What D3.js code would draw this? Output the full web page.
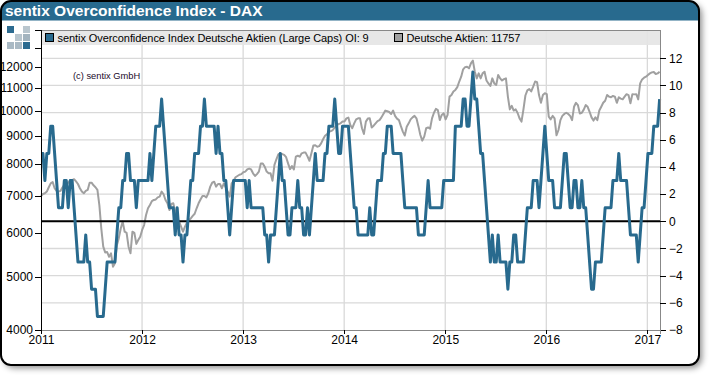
<!DOCTYPE html>
<html lang="en">
<head>
<meta charset="UTF-8">
<title>sentix Overconfidence Index - DAX</title>
<script src="https://cdn.jsdelivr.net/npm/d3@7"></script>
<style>
    html, body { margin: 0; padding: 0; background: #fff; }
    svg { display: block; }
    text { font-family: "Liberation Sans", Arial, sans-serif; }
    .axis text { font-size: 12px; fill: #000; }
    .axis path, .axis line { fill: none; shape-rendering: crispEdges; }
</style>
</head>
<body>
<script>
    var width = 710, height = 376

    // weekly readings, first one is the first week of 2011
    var weeksPerYear = 51.95
    var startYear = 2011
    var sentimentValues = [
        5,5,3,5,5,7,7,5,3,1,1,1,3,3,1,3,3,1,-1,-3,-3,-3,-3,-1,-3,-3,-5,-5,-5,-7,-7,-7,-7,-5,-3,-3,-3,-3,-3,-1,
        1,1,3,3,5,5,3,3,3,1,3,3,3,3,3,3,5,3,5,7,7,7,9,7,5,3,1,1,1,-1,1,-1,-1,-3,-1,-1,1,3,3,5,
        5,5,7,7,9,7,7,7,7,7,5,7,5,5,3,3,1,-1,1,3,3,3,3,3,3,3,1,3,1,1,1,1,1,1,1,-1,-1,-3,-1,-1,
        -1,1,3,5,3,3,1,-1,-1,1,1,1,3,1,1,-1,-1,1,-1,1,3,5,3,3,3,3,5,5,7,7,7,9,7,5,5,7,7,7,7,5,
        3,1,1,-1,-1,-1,-1,-1,-1,1,-1,-1,1,3,3,3,5,5,7,7,7,5,5,5,5,5,3,1,1,1,1,1,1,1,-1,-1,-1,-1,
        1,3,1,1,1,1,1,1,1,3,3,3,3,3,3,7,7,7,7,9,9,7,7,9,11,9,9,7,5,5,3,1,-1,-3,-1,-3,-3,-1,-3,-3,
        -3,-3,-5,-3,-3,-1,-1,-3,-3,-3,-3,-1,1,1,1,3,3,3,1,3,5,7,5,3,3,3,1,1,1,1,3,5,5,3,1,1,3,3,
        1,1,3,1,1,-1,-3,-5,-5,-3,-3,-3,-3,-1,1,1,1,1,3,3,3,5,3,3,3,3,1,-1,-1,-1,-1,-3,-1,1,1,3,5,5,
        5,7,7,7,9
    ]
    var daxValues = [
        7000,7060,7080,7130,7260,7380,7420,7230,7150,7130,7150,7250,7330,7380,7400,7460,7480,7510,7440,7360,
        7230,7130,7080,7150,7180,7400,7400,7320,7260,7180,6740,6110,5665,5530,5540,5430,5510,5210,5285,5700,
        5870,6110,6290,6030,6000,5665,5510,6030,6000,5730,5825,5905,6075,6200,6465,6650,6740,6850,6885,6900,
        6960,6980,7130,7050,6885,6790,6600,6770,6790,6555,6375,6290,6160,6030,6160,6260,6330,6375,6440,6500,
        6650,6790,6900,7000,7000,6960,7080,7280,7400,7430,7280,7360,7360,7230,7380,7250,7130,6980,7380,7460,
        7570,7610,7650,7670,7730,7750,7820,7850,7820,7695,7610,7670,7750,8020,8020,7910,7750,7695,7695,7460,
        7970,8160,8330,8365,8340,8310,8230,8020,7830,7930,7820,8250,8280,8250,8365,8390,8390,8260,8110,8365,
        8640,8650,8600,8620,8720,8870,9000,9060,9150,9180,9220,9320,9400,9455,9480,9550,9550,9680,9710,9410,
        9290,9480,9640,9680,9680,9290,9070,9550,9670,9680,9320,9390,9480,9570,9610,9720,9860,10000,9970,9940,
        9860,10000,9780,9670,9610,9370,9160,9010,9350,9480,9640,9720,9780,9680,9370,9030,8820,8970,9290,9320,
        9270,9680,9910,10070,10020,9610,9820,9885,9640,9820,10600,10670,10830,10900,11030,11290,11520,11880,11990,12010,
        11930,12180,12320,11760,11440,11680,11440,11680,11760,11340,11200,11080,11440,11200,11130,11600,11440,11340,11400,11440,
        10600,10050,10200,10000,10050,9900,9680,9550,10050,10650,10880,10940,10830,11050,11290,11260,10670,10330,10670,10750,
        10710,9750,9640,9780,9680,9020,9220,9610,9780,9860,9910,9860,9780,9610,10160,10330,10230,9880,9910,10040,
        10230,10160,9950,9720,9590,9720,9610,10000,10160,10330,10420,10670,10600,10570,10630,10600,10330,10570,10510,10480,
        10600,10710,10670,10310,10710,10700,10710,10480,11200,11390,11470,11520,11600,11680,11730,11750,11650,11680,11757
    ]
    var yearTicks = [2011, 2012, 2013, 2014, 2015, 2016, 2017]
    var daxTicks = [4000, 5000, 6000, 7000, 8000, 9000, 10000, 11000, 12000, 13000, 14000]
    var sentimentTicks = [-8, -6, -4, -2, 0, 2, 4, 6, 8, 10, 12]

    var titleText = "sentix Overconfidence Index - DAX"
    var legendNames = ["sentix Overconfidence Index Deutsche Aktien (Large Caps) OI: 9", "Deutsche Aktien: 11757"]
    var blue = "#286a8e", grey = "#a0a0a0"

    var plotLeft = 41, plotRight = 660, plotTop = 30, plotBottom = 330

    var svg = d3.select("body").append("svg")
        .attr("width", width)
        .attr("height", height)

    var defs = svg.append("defs")
    var shadow = defs.append("filter").attr("id", "shadow")
        .attr("x", "-5%").attr("y", "-5%").attr("width", "110%").attr("height", "110%")
    shadow.append("feDropShadow")
        .attr("dx", 3).attr("dy", 3).attr("stdDeviation", 3)
        .attr("flood-color", "#000").attr("flood-opacity", 0.45)
    defs.append("clipPath").attr("id", "frameClip").append("rect")
        .attr("x", 1).attr("y", 1).attr("width", 698).attr("height", 364).attr("rx", 10)

    // frame and title bar
    svg.append("rect")
        .attr("x", 1).attr("y", 1).attr("width", 698).attr("height", 364).attr("rx", 10)
        .attr("fill", "#fff").attr("filter", "url(#shadow)")
    svg.append("rect")
        .attr("x", 1).attr("y", 1).attr("width", 698).attr("height", 19.5)
        .attr("fill", blue).attr("clip-path", "url(#frameClip)")
    svg.append("rect")
        .attr("x", 1).attr("y", 1).attr("width", 698).attr("height", 364).attr("rx", 10)
        .attr("fill", "none").attr("stroke", "#000").attr("stroke-width", 2)
    svg.append("text")
        .attr("x", 5).attr("y", 16)
        .attr("fill", "#fff").attr("font-size", 15.5).attr("font-weight", "bold")
        .text(titleText)

    // small logo in the corner
    var logoCells = [
        [0, 0, "#2c6b90"], [2, 0, "#b9c6ce"],
        [1, 1, "#b9c6ce"], [2, 1, "#a3b4bf"],
        [0, 2, "#a9b9c4"], [1, 2, "#a9b9c4"], [2, 2, "#2c6b90"]
    ]
    svg.append("g").selectAll("rect")
        .data(logoCells)
        .enter()
        .append("rect")
        .attr("x", function(d) { return 7 + d[0] * 8 })
        .attr("y", function(d) { return 26 + d[1] * 8 })
        .attr("width", 7)
        .attr("height", 7)
        .attr("fill", function(d) { return d[2] })

    // scales
    var x = d3.scaleLinear().domain([2011, 2017.125]).range([plotLeft, plotRight])
    var yDax = d3.scaleLog().domain([4000, 14000]).range([plotBottom, plotTop])
    var ySent = d3.scaleLinear().domain([-8, 12]).range([plotBottom, 58.3])

    function weekYear(i) {
        return startYear + i / weeksPerYear
    }

    // grid
    var grid = svg.append("g").attr("stroke", "#d9d9d9").attr("stroke-width", 1.3)
    grid.selectAll("line.h")
        .data(sentimentTicks.slice(1))
        .enter()
        .append("line")
        .attr("class", "h")
        .attr("x1", plotLeft).attr("x2", plotRight)
        .attr("y1", function(d) { return ySent(d) })
        .attr("y2", function(d) { return ySent(d) })
    grid.selectAll("line.v")
        .data(yearTicks.slice(1))
        .enter()
        .append("line")
        .attr("class", "v")
        .attr("y1", plotTop).attr("y2", plotBottom)
        .attr("x1", function(d) { return x(d) })
        .attr("x2", function(d) { return x(d) })

    // legend band, the grid still shows faintly through it
    svg.append("rect")
        .attr("x", plotLeft).attr("y", plotTop)
        .attr("width", plotRight - plotLeft).attr("height", 15)
        .attr("fill", "#e4e4e4").attr("fill-opacity", 0.9)
    svg.append("line")
        .attr("x1", plotLeft).attr("x2", plotRight)
        .attr("y1", plotTop + 0.5).attr("y2", plotTop + 0.5)
        .attr("stroke", "#888")

    var daxLine = d3.line()
        .x(function(d, i) { return x(weekYear(i)) })
        .y(function(d) { return yDax(d) })
    var sentLine = d3.line()
        .x(function(d, i) { return x(weekYear(i)) })
        .y(function(d) { return ySent(d) })

    svg.append("path")
        .datum(daxValues)
        .attr("d", daxLine)
        .attr("fill", "none")
        .attr("stroke", grey)
        .attr("stroke-width", 2)
        .attr("stroke-linejoin", "round")

    svg.append("line")
        .attr("x1", plotLeft).attr("x2", plotRight)
        .attr("y1", ySent(0)).attr("y2", ySent(0))
        .attr("stroke", "#000").attr("stroke-width", 2)

    svg.append("path")
        .datum(sentimentValues)
        .attr("d", sentLine)
        .attr("fill", "none")
        .attr("stroke", blue)
        .attr("stroke-width", 3)
        .attr("stroke-linejoin", "round")

    // axes
    var daxAxis = d3.axisLeft(yDax)
        .tickValues(daxTicks)
        .tickSize(6)
        .tickPadding(2)
        .tickFormat(function(d) { return d <= 12000 ? d : "" })
    var gDax = svg.append("g")
        .attr("class", "axis")
        .attr("transform", "translate(" + plotLeft + ",0)")
        .call(daxAxis)
    gDax.selectAll("path, line").attr("stroke", "#000")
    gDax.select(".domain").attr("stroke-width", 1.5)

    var sentAxis = d3.axisRight(ySent)
        .tickValues(sentimentTicks)
        .tickSize(6)
        .tickPadding(3)
    var gSent = svg.append("g")
        .attr("class", "axis")
        .attr("transform", "translate(" + plotRight + ",0)")
        .call(sentAxis)
    gSent.select(".domain").attr("d", "M0.5," + plotTop + "V" + plotBottom).attr("stroke", "#888")
    gSent.selectAll("line").attr("stroke", "#000")

    var yearAxis = d3.axisBottom(x)
        .tickValues(yearTicks)
        .tickSize(4)
        .tickPadding(1)
        .tickFormat(d3.format("d"))
    var gYear = svg.append("g")
        .attr("class", "axis")
        .attr("transform", "translate(0," + plotBottom + ")")
        .call(yearAxis)
    gYear.select(".domain").attr("stroke", "#888")
    gYear.selectAll("line").attr("stroke", "#000")

    // legend
    var legendX = [45, 394]
    var legendColors = [blue, grey]
    var legend = svg.append("g").selectAll("g")
        .data(legendNames)
        .enter()
        .append("g")
        .attr("transform", function(d, i) { return "translate(" + legendX[i] + ",0)" })
    legend.append("rect")
        .attr("x", 0.5).attr("y", 33.5)
        .attr("width", 8).attr("height", 8)
        .attr("fill", function(d, i) { return legendColors[i] })
        .attr("stroke", "#000")
    legend.append("text")
        .attr("x", 12.5).attr("y", 42)
        .attr("font-size", 11)
        .attr("letter-spacing", -0.07)
        .attr("fill", "#000")
        .text(function(d) { return d })

    svg.append("text")
        .attr("x", 73).attr("y", 79)
        .attr("font-size", 9.3)
        .attr("fill", "#1a0a2a")
        .text("(c) sentix GmbH")
</script>
</body>
</html>
